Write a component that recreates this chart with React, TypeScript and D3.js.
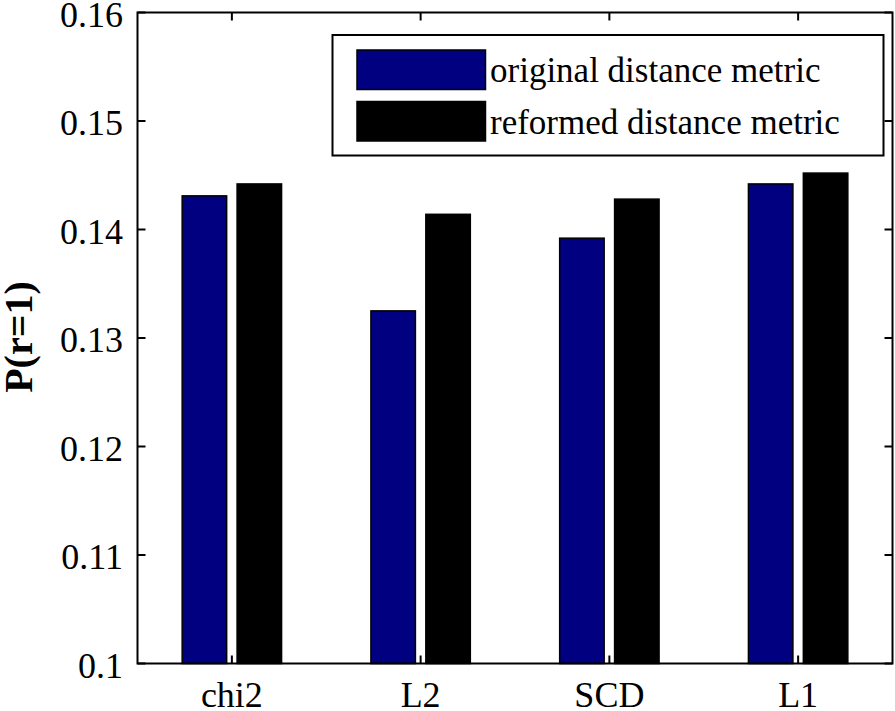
import React from "react";
import * as d3 from "d3";

const categories = ["chi2", "L2", "SCD", "L1"];
const seriesNames = ["original distance metric", "reformed distance metric"];
const originalValues = [0.1431, 0.1325, 0.1392, 0.1442];
const reformedValues = [0.1442, 0.1414, 0.1428, 0.1452];
const yTicks = [0.1, 0.11, 0.12, 0.13, 0.14, 0.15, 0.16];
const yTickLabels = ["0.1", "0.11", "0.12", "0.13", "0.14", "0.15", "0.16"];
const colors = ["#000080", "#000000"];

const W = 895;
const H = 711;
const left = 137.5;
const right = 892.5;
const top = 12.5;
const bottom = 663.5;
const FONT = "Liberation Serif, Times New Roman, DejaVu Serif, serif";
const textStyle = { fontFamily: FONT };

export default function App() {
  const x = d3.scaleBand<string>().domain(categories).range([left, right]).paddingInner(0).paddingOuter(0);
  const bw = x.bandwidth();
  const inner = d3
    .scaleBand<string>()
    .domain(seriesNames)
    .range([bw / 2 - 49.7, bw / 2 + 49.7])
    .paddingInner(0.19)
    .paddingOuter(0);
  const y = d3.scaleLinear().domain([0.1, 0.16]).range([bottom, top]);
  const series = [originalValues, reformedValues];
  const tickLen = 8;

  return (
    <svg
      width={W}
      height={H}
      style={{ position: "absolute", left: 0, top: 0, background: "#fff" }}
    >
      <rect x={0} y={0} width={W} height={H} fill="#fff" />
      {categories.map((c, i) => (
        <g key={c} transform={`translate(${x(c)},0)`}>
          {series.map((vals, s) => (
            <rect
              key={s}
              x={inner(seriesNames[s])}
              y={y(vals[i])}
              width={inner.bandwidth()}
              height={y(0.1) - y(vals[i])}
              fill={colors[s]}
              stroke="#000"
              strokeWidth={1.5}
            />
          ))}
        </g>
      ))}
      <rect x={left} y={top} width={right - left} height={bottom - top} fill="none" stroke="#000" strokeWidth={2} />
      {yTicks.map((t, i) => (
        <g key={t}>
          <line x1={left} x2={left + tickLen} y1={y(t)} y2={y(t)} stroke="#000" strokeWidth={2} />
          <line x1={right} x2={right - tickLen} y1={y(t)} y2={y(t)} stroke="#000" strokeWidth={2} />
          <text x={123} y={y(t)} dy="0.39em" textAnchor="end" fontSize={36} fill="#000" style={textStyle}>
            {yTickLabels[i]}
          </text>
        </g>
      ))}
      {categories.map((c) => {
        const cx = (x(c) as number) + bw / 2;
        return (
          <g key={c}>
            <line x1={cx} x2={cx} y1={bottom} y2={bottom - tickLen} stroke="#000" strokeWidth={2} />
            <line x1={cx} x2={cx} y1={top} y2={top + tickLen} stroke="#000" strokeWidth={2} />
            <text x={cx} y={707} textAnchor="middle" fontSize={36} fill="#000" style={textStyle}>
              {c}
            </text>
          </g>
        );
      })}
      <text
        transform={`translate(32,337) rotate(-90)`}
        textAnchor="middle"
        fontSize={40}
        fontWeight="bold"
        fill="#000"
        style={textStyle}
      >
        P(r=1)
      </text>
      <rect x={332.5} y={35} width={551} height={120.5} fill="#fff" stroke="#000" strokeWidth={2} />
      {seriesNames.map((n, s) => (
        <g key={n}>
          <rect
            x={357}
            y={50 + s * 51.5}
            width={128.5}
            height={39.5}
            fill={colors[s]}
            stroke="#000"
            strokeWidth={1.5}
          />
          <text x={490} y={70 + s * 51.5} dy="0.35em" fontSize={35} fill="#000" style={textStyle}>
            {n}
          </text>
        </g>
      ))}
    </svg>
  );
}
